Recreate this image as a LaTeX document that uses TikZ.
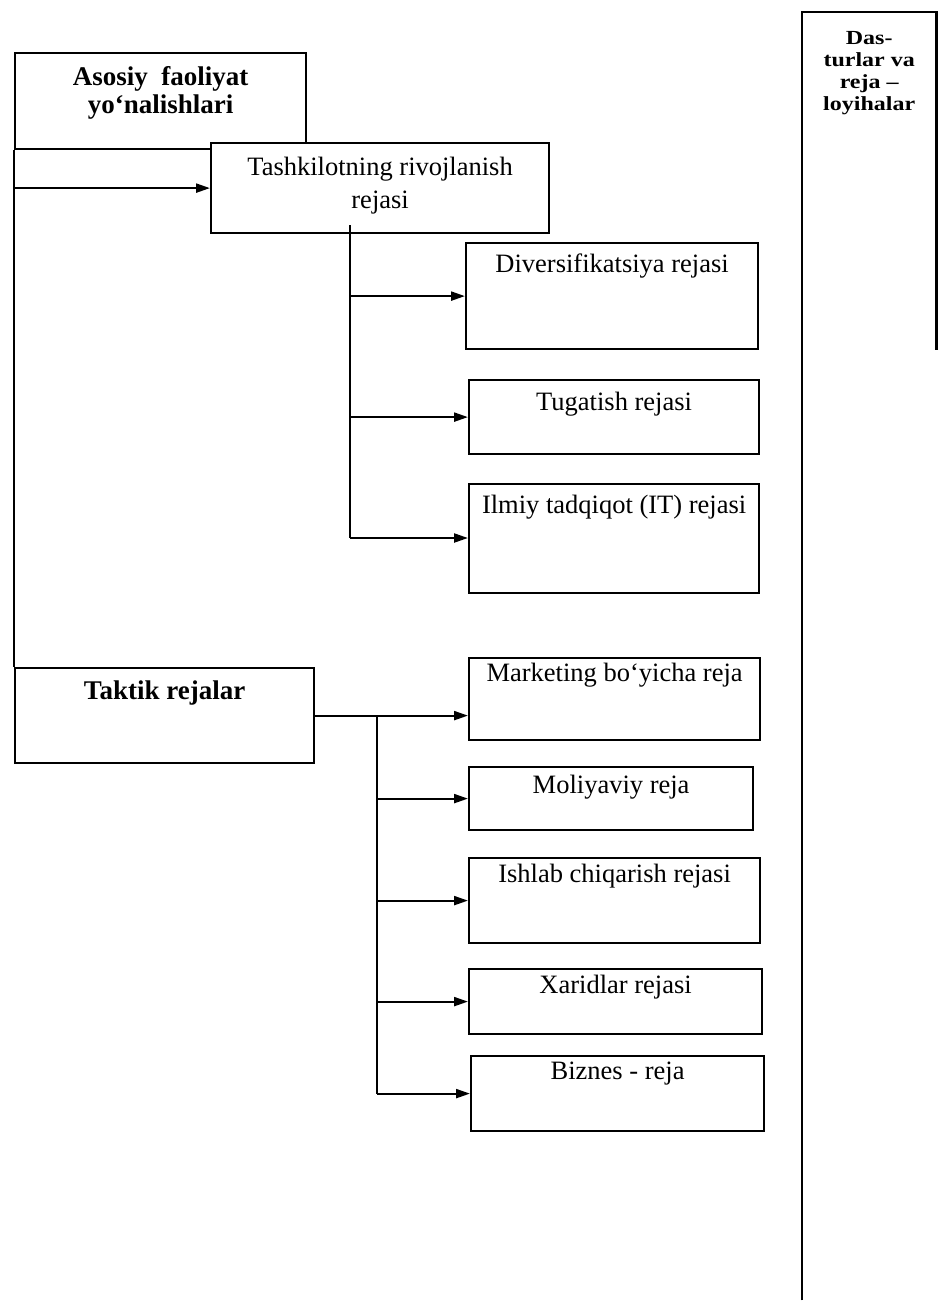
\documentclass[tikz,border=0pt]{standalone}
\usepackage{fontspec}
\setmainfont{Liberation Serif}
\usetikzlibrary{arrows.meta,calc}
\newcommand{\widetxt}[1]{\scalebox{1.2}[1]{#1}}
\begin{document}
\begin{tikzpicture}[x=1pt,y=-1pt,
  box/.style={draw,line width=2.2pt,fill=white,inner sep=0pt,anchor=north west},
  lbl/.style={inner sep=0pt,font=\fontsize{26.5}{29}\selectfont,anchor=base,align=center},
  blbl/.style={inner sep=0pt,font=\fontsize{27}{29}\selectfont\bfseries,anchor=base,align=center},
  conn/.style={line width=2.2pt},
  arr/.style={line width=2.2pt,-{Triangle[length=14pt,width=9pt]}}]
\useasboundingbox (0,0) rectangle (938,1302);
% top left box
\node[box,minimum width=291,minimum height=96] (A) at (14,52) {};
\node[box,minimum width=338,minimum height=90] (B) at (210,142) {};
\node[blbl] (At) at ($(A.north)+(0,33)$) {Asosiy\ \ faoliyat};
\node[blbl] (At2) at ($(A.north)+(0,61)$) {yo‘nalishlari};
\node[lbl] (Bt) at ($(B.north)+(0,33)$) {Tashkilotning rivojlanish};
\node[lbl] (Bt2) at ($(B.north)+(0,66)$) {rejasi};
% upper right group
\node[box,minimum width=292,minimum height=106] (div) at (465,242) {};
\node[box,minimum width=290,minimum height=74] (tug) at (468,379) {};
\node[box,minimum width=290,minimum height=109] (ilm) at (468,483) {};
\node[lbl] at ($(div.north)+(0,30)$) {Diversifikatsiya rejasi};
\node[lbl] at ($(tug.north)+(0,31)$) {Tugatish rejasi};
\node[lbl] at ($(ilm.north)+(0,30)$) {Ilmiy tadqiqot (IT) rejasi};
% tactical
\node[box,minimum width=299,minimum height=95] (T) at (14,667) {};
\node[blbl] at ($(T.north)+(0,32)$) {Taktik rejalar};
\node[box,minimum width=291,minimum height=82] (mk) at (468,657) {};
\node[box,minimum width=284,minimum height=63] (mol) at (468,766) {};
\node[box,minimum width=291,minimum height=85] (ish) at (468,857) {};
\node[box,minimum width=293,minimum height=65] (xar) at (468,968) {};
\node[box,minimum width=293,minimum height=75] (biz) at (470,1055) {};
\node[lbl] at ($(mk.north)+(0,24)$) {Marketing bo‘yicha reja};
\node[lbl] at ($(mol.north)+(0,27)$) {Moliyaviy reja};
\node[lbl] at ($(ish.north)+(0,25)$) {Ishlab chiqarish rejasi};
\node[lbl] at ($(xar.north)+(0,25)$) {Xaridlar rejasi};
\node[lbl] at ($(biz.north)+(0,24)$) {Biznes - reja};
% right column
\node[inner sep=0pt,minimum width=134,minimum height=1288,anchor=north west] (prog) at (802,12) {};
\draw[conn] (prog.south west) -- (prog.north west) -- (prog.north east) -- ($(prog.north east)+(0,338)$);
\node[inner sep=0pt,font=\fontsize{20}{22}\selectfont\bfseries,align=center,anchor=north] (pt) at ($(prog.north)+(0,19)$) {\widetxt{Das-}\\\widetxt{turlar va}\\\widetxt{reja –}\\\widetxt{loyihalar}};
% connectors upper
\draw[conn] (A.south west) -- (T.north west);
\draw[arr] (A.south west |- B.west) -- (B.west);
\coordinate (bt) at (350,225);
\coordinate (bb) at (350,538);
\draw[conn] (bt) -- (bb);
\draw[arr] (bt |- div.west) -- (div.west);
\draw[arr] (bt |- tug.west) -- (tug.west);
\draw[arr] (bb) -- (bb -| ilm.west);
% connectors lower
\coordinate (lt) at (377,0);
\draw[arr] (T.east) -- (T.east -| mk.west);
\draw[conn] (lt |- T.east) -- (lt |- biz.west);
\draw[arr] (lt |- mol.west) -- (mol.west);
\draw[arr] (lt |- ish.west) -- (ish.west);
\draw[arr] (lt |- xar.west) -- (xar.west);
\draw[arr] (lt |- biz.west) -- (biz.west);
\end{tikzpicture}
\end{document}
